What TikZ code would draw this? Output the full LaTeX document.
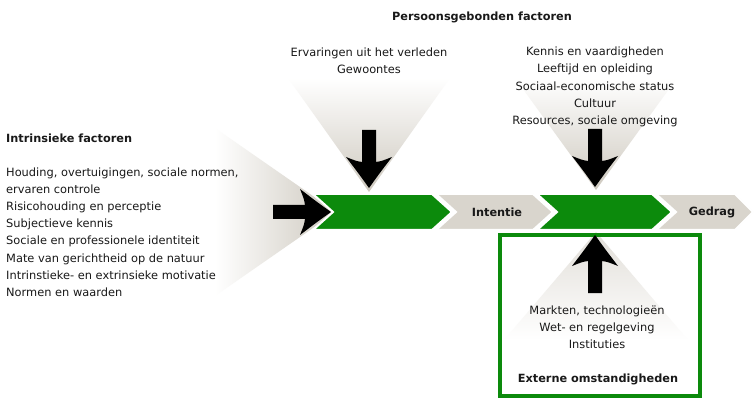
\documentclass[tikz,border=0pt]{standalone}
\usepackage{fontspec}
\setmainfont{DejaVu Sans}
\definecolor{chgreen}{RGB}{12,138,12}
\definecolor{chgray}{RGB}{217,213,205}
\definecolor{trigray}{RGB}{206,201,191}
\definecolor{txtcol}{RGB}{25,25,25}
\begin{document}
\begin{tikzpicture}[x=1pt,y=-1pt,
  txt/.style={inner sep=0pt, font=\fontsize{11.4}{17.2}\selectfont, text=txtcol, align=center},
  btxt/.style={inner sep=0pt, font=\fontsize{11.3}{17.2}\selectfont\bfseries, text=txtcol},
  chev/.style={draw=white, line width=2pt, line join=miter},
  darrow/.pic={\fill[black] (-7,-58) -- (-7,-26) .. controls (-13,-27) .. (-23,-31) .. controls (-10,-14) .. (0,0) .. controls (10,-14) .. (23,-31) .. controls (13,-27) .. (7,-26) -- (7,-58) -- cycle;}
]
\useasboundingbox (0,0) rectangle (755,398);
\fill[white] (0,0) rectangle (755,398);

% gradient triangles
\shade[left color=white, right color=trigray] (215,128) -- (336,212) -- (215,296) -- cycle;
\shade[top color=white, bottom color=trigray] (288,78) -- (450,78) -- (369,192) -- cycle;
\shade[top color=white, bottom color=trigray] (515,78) -- (677,78) -- (596,190) -- cycle;
\shade[top color=trigray!60, middle color=trigray, bottom color=white] (596,232) -- (688,340) -- (504,340) -- cycle;

% chevrons
\path[chev, fill=chgreen] (313,194) -- (432,194) -- (452,212) -- (432,230) -- (313,230) -- (333,212) -- cycle;
\path[chev, fill=chgray] (436,194) -- (533,194) -- (553,212) -- (533,230) -- (436,230) -- (456,212) -- cycle;
\path[chev, fill=chgreen] (537,194) -- (652,194) -- (672,212) -- (652,230) -- (537,230) -- (557,212) -- cycle;
\path[chev, fill=chgray] (656,194) -- (735,194) -- (753,212) -- (735,230) -- (656,230) -- (676,212) -- cycle;

\node[btxt] (intentie) at (497,212) {Intentie};
\node[btxt] (gedrag) at (712,212) {Gedrag};

% external box
\draw[chgreen, line width=4pt] (500,235) rectangle (700,396);

% arrows
\pic at (369,188) {darrow};
\pic at (595,187) {darrow};
\pic[rotate=180] at (595,235) {darrow};
\pic[rotate=90] at (331,212) {darrow};

% texts
\node[btxt] (persoon) at (482,17) {Persoonsgebonden factoren};
\node[txt] (ervaring) at (369,61) {Ervaringen uit het verleden\\Gewoontes};
\node[txt] (kennis) at (595,87) {Kennis en vaardigheden\\Leeftijd en opleiding\\Sociaal-economische status\\Cultuur\\Resources, sociale omgeving};
\node[btxt, anchor=west] (intr) at (6,138) {Intrinsieke factoren};
\node[txt, align=left, anchor=west] (intrlist) at (6,232) {Houding, overtuigingen, sociale normen,\\ervaren controle\\Risicohouding en perceptie\\Subjectieve kennis\\Sociale en professionele identiteit\\Mate van gerichtheid op de natuur\\Intrinstieke- en extrinsieke motivatie\\Normen en waarden};
\node[txt] (markten) at (597,327) {Markten, technologieën\\Wet- en regelgeving\\Instituties};
\node[btxt] (extern) at (598,379) {Externe omstandigheden};
\end{tikzpicture}
\end{document}
